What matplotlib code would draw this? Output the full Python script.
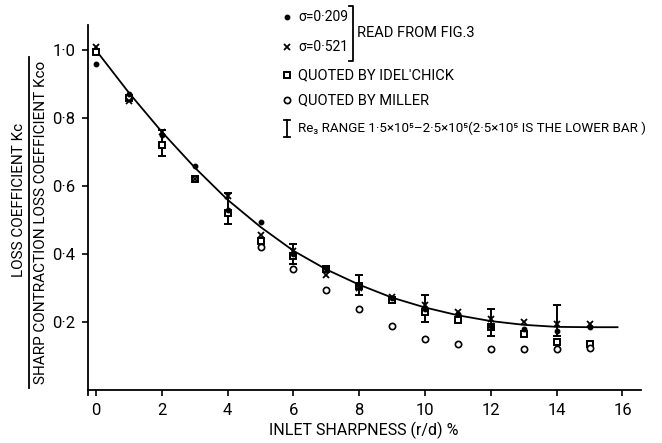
import matplotlib.pyplot as plt
import numpy as np

plt.rcParams['font.family'] = ['Roboto', 'DejaVu Sans']

# data
x_pts = [0, 1, 2, 3, 4, 5, 6, 7, 8, 9, 10, 11, 12, 13, 14, 15]
k_209 = [0.96, 0.87, 0.75, 0.66, 0.53, 0.495, 0.40, 0.36, 0.31, 0.27, 0.24, 0.225, 0.19, 0.18, 0.175, 0.185]
k_521 = [1.01, 0.85, 0.76, 0.62, 0.57, 0.455, 0.41, 0.34, 0.30, 0.275, 0.25, 0.23, 0.21, 0.20, 0.195, 0.195]
k_idel = [0.995, 0.86, 0.72, 0.62, 0.52, 0.44, 0.395, 0.355, 0.305, 0.265, 0.23, 0.205, 0.185, 0.165, 0.14, 0.135]
x_miller = [5, 6, 7, 8, 9, 10, 11, 12, 13, 14, 15]
k_miller = [0.42, 0.355, 0.295, 0.24, 0.19, 0.15, 0.135, 0.12, 0.12, 0.12, 0.125]

x_bar = [2, 4, 6, 8, 10, 12, 14]
bar_lo = [0.69, 0.49, 0.37, 0.28, 0.20, 0.16, 0.16]
bar_hi = [0.765, 0.58, 0.43, 0.34, 0.28, 0.238, 0.25]

x_curve = [0, 1, 2, 3, 4, 5, 6, 7, 8, 9, 10, 11, 12, 13, 14, 15, 15.85]
k_curve = [1.0, 0.875, 0.76, 0.655, 0.56, 0.48, 0.41, 0.355, 0.31, 0.272, 0.243, 0.22, 0.203, 0.192, 0.186, 0.185, 0.185]

W, H = 662, 443
fig = plt.figure(figsize=(W / 100, H / 100), dpi=100)
ax = fig.add_axes([0.1326, 0.108, 0.835, 0.836])

def fp(px, py):
    return px / W, 1 - py / H

ax.plot(x_curve, k_curve, color='black', lw=1.3)

mid = [(a + b) / 2 for a, b in zip(bar_lo, bar_hi)]
half = [(b - a) / 2 for a, b in zip(bar_lo, bar_hi)]
ax.errorbar(x_bar, mid, yerr=half, fmt='none', ecolor='black', elinewidth=1.4, capsize=3, capthick=1.4)

ax.plot(x_pts, k_idel, 's', ms=4.5, mfc='white', mec='black', mew=1.4, ls='none')
ax.plot(x_miller, k_miller, 'o', ms=4.5, mfc='white', mec='black', mew=1.2, ls='none')
ax.plot(x_pts, k_521, 'x', ms=5, color='black', mew=1.3, ls='none')
ax.plot(x_pts, k_209, 'o', ms=3.2, color='black', ls='none')

ax.set_xlim(-0.25, 16.55)
ax.set_ylim(-0.015, 1.075)
ax.spines['top'].set_visible(False)
ax.spines['right'].set_visible(False)
ax.spines['bottom'].set_position(('data', 0))
ax.spines['left'].set_linewidth(1.3)
ax.spines['bottom'].set_linewidth(1.3)

ax.set_xticks(range(0, 17, 2))
ax.set_xticklabels([str(v) for v in range(0, 17, 2)], fontsize=12)
ax.set_yticks([0.2, 0.4, 0.6, 0.8, 1.0])
ax.set_yticklabels(['0·2', '0·4', '0·6', '0·8', '1·0'], fontsize=12)
ax.tick_params(direction='out', length=4, width=1.2, pad=5)

ax.set_xlabel('INLET SHARPNESS (r/d) %', fontsize=11.5, labelpad=3)

# y label as a fraction
fig.text(*fp(19, 200), 'LOSS COEFFICIENT Kc', rotation=90, ha='center', va='center', fontsize=11)
fig.text(*fp(41, 222), 'SHARP CONTRACTION LOSS COEFFICIENT Kco', rotation=90, ha='center', va='center', fontsize=11)
fig.add_artist(plt.Line2D([29 / W, 29 / W], [1 - 57 / H, 1 - 388 / H], color='black', lw=1.3))

# legend
mx = 287
tx = 298
fs = 10.5
fig.add_artist(plt.Line2D([mx / W], [1 - 17 / H], marker='o', ms=3.2, color='black'))
fig.text(*fp(tx, 17), 'σ=0·209', va='center', fontsize=10)
fig.add_artist(plt.Line2D([mx / W], [1 - 47 / H], marker='x', ms=5, mew=1.3, color='black'))
fig.text(*fp(tx, 47), 'σ=0·521', va='center', fontsize=10)
fig.add_artist(plt.Line2D([349 / W, 353 / W, 353 / W, 349 / W],
                          [1 - 6 / H, 1 - 6 / H, 1 - 61 / H, 1 - 61 / H], color='black', lw=1.3))
fig.text(*fp(357, 33), 'READ FROM FIG.3', va='center', fontsize=fs)
fig.add_artist(plt.Line2D([mx / W], [1 - 75 / H], marker='s', ms=4.5, mfc='white', mec='black', mew=1.4))
fig.text(*fp(tx, 75), "QUOTED BY IDEL'CHICK", va='center', fontsize=fs)
fig.add_artist(plt.Line2D([mx / W], [1 - 100 / H], marker='o', ms=4.5, mfc='white', mec='black', mew=1.2))
fig.text(*fp(tx, 100), 'QUOTED BY MILLER', va='center', fontsize=fs)
fig.add_artist(plt.Line2D([mx / W, mx / W], [1 - 120 / H, 1 - 137 / H], color='black', lw=1.3))
fig.add_artist(plt.Line2D([(mx - 3) / W, (mx + 3) / W], [1 - 120 / H, 1 - 120 / H], color='black', lw=1.3))
fig.add_artist(plt.Line2D([(mx - 3) / W, (mx + 3) / W], [1 - 137 / H, 1 - 137 / H], color='black', lw=1.3))
fig.text(*fp(tx, 128), 'Re₃ RANGE 1·5×10⁵–2·5×10⁵(2·5×10⁵ IS THE LOWER BAR )', va='center', fontsize=9.6)

fig.savefig('out.png', dpi=100)
